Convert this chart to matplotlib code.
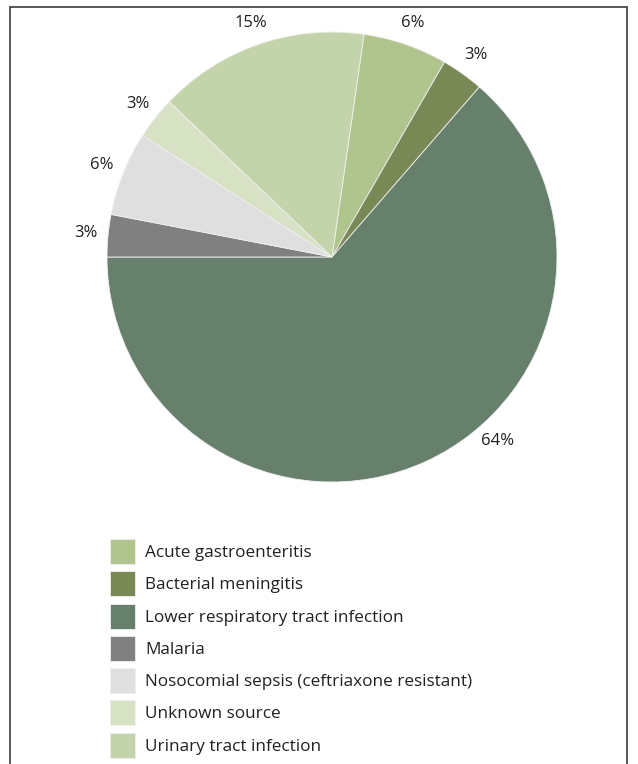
import numpy as np
import matplotlib.pyplot as plt
from matplotlib.patches import Rectangle

# cases per diagnosis (n = 33)
labels = ['Acute gastroenteritis', 'Bacterial meningitis',
          'Lower respiratory tract infection', 'Malaria',
          'Nosocomial sepsis (ceftriaxone resistant)', 'Unknown source',
          'Urinary tract infection']
counts = [2, 1, 21, 1, 2, 1, 5]
colors = ['#b0c58e', '#788955', '#66806b', '#808080',
          '#dfdfdf', '#d7e1c4', '#c4d4aa']

plt.rcParams['font.family'] = ['Open Sans', 'DejaVu Sans']

fig = plt.figure(figsize=(6.38, 7.64), dpi=100)
ax = fig.add_axes([107/638, 1 - 482/764, 450/638, 450/764])

# LRTI ends at 9 o'clock, drawn clockwise
start = 180 + sum(counts[:3]) / sum(counts) * 360
wedges, texts, autotexts = ax.pie(counts, colors=colors, startangle=start,
                                  counterclock=False,
                                  autopct='%1.0f%%', pctdistance=1.1,
                                  wedgeprops=dict(edgecolor='#f0f0f0', linewidth=0.6),
                                  textprops=dict(fontsize=12, color='#231f20'))
# big slice label sits lower right, not at the mid angle
a = np.deg2rad(-48)
autotexts[2].set_position((1.1 * np.cos(a), 1.1 * np.sin(a)))
ax.set_xlim(-1, 1)
ax.set_ylim(-1, 1)
ax.set_aspect('equal')

leg = fig.legend(wedges, labels, loc='upper left', bbox_to_anchor=(110/638, 1 - 539/764),
                 frameon=False, fontsize=12.3, handlelength=1.46, handleheight=1.87,
                 labelspacing=0.43, handletextpad=0.6, borderpad=0, borderaxespad=0)
for t in leg.get_texts():
    t.set_color('#231f20')

# outer box, open at the bottom
fig.add_artist(Rectangle((10/638, -0.05), 617/638, 1.05 - 7/764,
                         transform=fig.transFigure, fill=False,
                         edgecolor='#3a3a3a', linewidth=1.2))

fig.savefig('out.png', dpi=100)
